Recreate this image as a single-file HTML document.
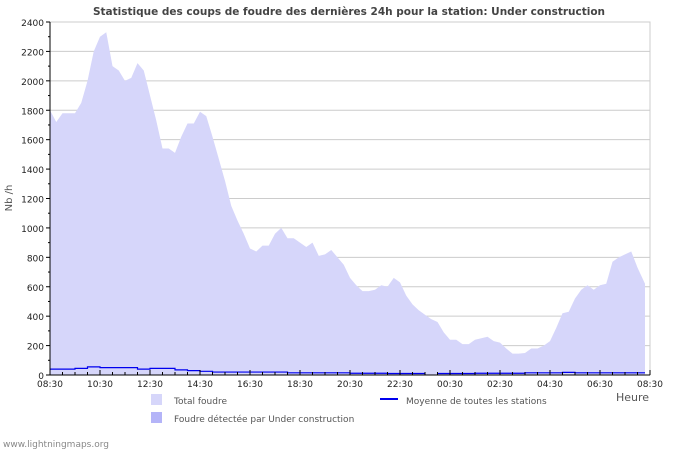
<!DOCTYPE html>
<html><head><meta charset="utf-8"><style>
body{margin:0;background:#fff;}
svg{display:block;font-family:"DejaVu Sans","Liberation Sans",sans-serif;}
</style></head><body>
<svg id="chart" width="700" height="450" viewBox="0 0 700 450">
<text x="349" y="15" text-anchor="middle" font-size="10.5" font-weight="bold" fill="#444">Statistique des coups de foudre des dernières 24h pour la station: Under construction</text>
<g id="grid"></g>
<g id="series"></g>
<g id="axes"></g>
<text transform="translate(12,198) rotate(-90)" text-anchor="middle" font-size="10" fill="#555">Nb /h</text>
<text x="616" y="401" font-size="11" fill="#555">Heure</text>
<rect x="151" y="394" width="11" height="11" fill="#d6d6fa"/>
<text x="174" y="404" font-size="9" fill="#555">Total foudre</text>
<rect x="151" y="412" width="11" height="11" fill="#b4b4f8"/>
<text x="174" y="422" font-size="9" fill="#555">Foudre détectée par Under construction</text>
<line x1="380" y1="399" x2="398" y2="399" stroke="#0000ee" stroke-width="2"/>
<text x="406" y="404" font-size="9" fill="#555">Moyenne de toutes les stations</text>
<text x="3" y="447" font-size="9" fill="#888">www.lightningmaps.org</text>
</svg>
<script>
const totalValues=[1800,1720,1780,1780,1780,1850,2000,2200,2300,2330,2100,2070,2000,2020,2120,2070,1900,1730,1540,1540,1510,1620,1710,1710,1790,1760,1620,1470,1320,1150,1050,960,860,840,880,880,960,1000,930,930,900,870,900,810,820,850,800,750,660,610,570,570,580,610,600,660,630,540,480,440,410,380,360,290,240,240,210,210,240,250,260,230,220,180,145,145,150,180,180,200,230,320,420,430,520,580,610,580,610,620,770,800,820,840,730,620];
const avgValues=[40,40,45,55,50,50,50,40,45,45,35,30,25,20,20,20,20,20,20,15,15,15,15,15,12,12,12,10,10,10,null,10,10,10,12,12,12,12,15,15,15,18,15,15,15,15,15,15];
const yTicks=[0,200,400,600,800,1000,1200,1400,1600,1800,2000,2200,2400];
const xLabels=["08:30","10:30","12:30","14:30","16:30","18:30","20:30","22:30","00:30","02:30","04:30","06:30","08:30"];
const NS="http://www.w3.org/2000/svg";
const X0=50,X1=650,Y0=375,Y1=22,YMAX=2400,HOURS=24;
const xs=h=>X0+(X1-X0)*h/HOURS;
const ys=v=>Y0-(Y0-Y1)*v/YMAX;
function mk(tag,attrs,parent){const e=document.createElementNS(NS,tag);for(const k in attrs)e.setAttribute(k,attrs[k]);parent.appendChild(e);return e;}
const grid=document.getElementById('grid'),series=document.getElementById('series'),axes=document.getElementById('axes');
mk('rect',{x:X0,y:Y1,width:X1-X0,height:Y0-Y1,fill:'none',stroke:'#ccc'},grid);
yTicks.forEach(v=>{
 const l=mk('line',{x1:X0,x2:X1,y1:ys(v),y2:ys(v),stroke:'#ccc'},grid);
 
 
 const t=mk('text',{x:44,y:ys(v)+4,'text-anchor':'end','font-size':9,fill:'#222'},axes);
 t.textContent=v;
 
 
 mk('line',{x1:X0-4,x2:X0,y1:ys(v),y2:ys(v),stroke:'#000'},axes);
 if(v<YMAX)mk('line',{x1:X0-2,x2:X0,y1:ys(v+100),y2:ys(v+100),stroke:'#000'},axes);
});
// total area
const last=(totalValues.length-1)*0.25+0.05;
let d='M'+xs(0)+','+Y0;
totalValues.forEach((v,i)=>{const h=i===totalValues.length-1?last:i*0.25;d+=' L'+xs(h)+','+ys(v);});
d+=' L'+xs(last)+','+Y0+' Z';
const area=mk('path',{d:d,fill:'#d6d6fa'},series);


// average line
let ad='',pen=false;
avgValues.forEach((v,i)=>{if(v===null){pen=false;return;}const a=xs(i*0.5),b=Math.min(xs(i*0.5+0.5),xs(last));ad+=(pen?' L':' M')+a+','+ys(v)+' L'+b+','+ys(v);pen=true;});
const avg=mk('path',{d:ad,fill:'none',stroke:'#0000ee','stroke-width':1.2},series);


mk('line',{x1:X0,x2:X1,y1:Y0,y2:Y0,stroke:'#000'},axes);
mk('line',{x1:X0,x2:X0,y1:Y1,y2:Y0,stroke:'#000'},axes);
for(let h=0;h<=HOURS;h+=0.5){
 const major=(h%2===0);
 mk('line',{x1:xs(h),x2:xs(h),y1:Y0,y2:Y0-(major?5:3),stroke:'#000'},axes);
}
xLabels.forEach((s,i)=>{
 const t=mk('text',{x:xs(i*2),y:387,'text-anchor':'middle','font-size':9,fill:'#222'},axes);
 t.textContent=s;
 
 
});
</script>
</body></html>
